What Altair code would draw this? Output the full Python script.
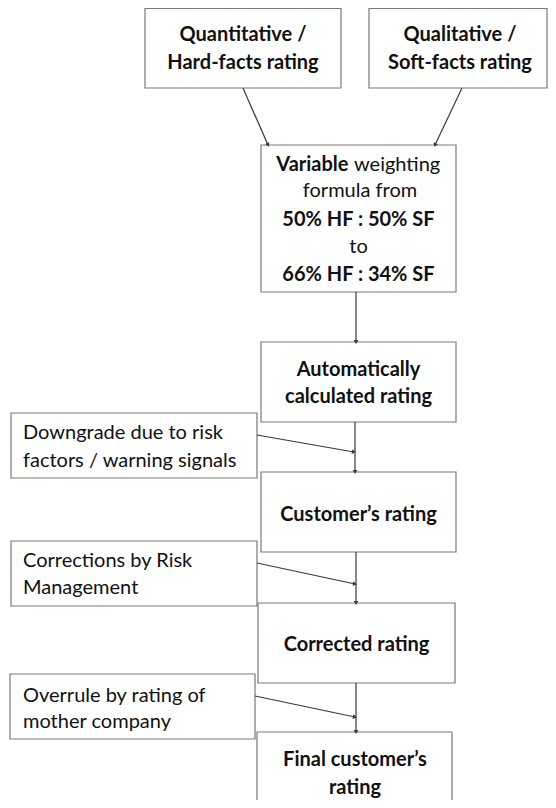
import altair as alt
import pandas as pd
import numpy as np

# ---- boxes (image pixel coordinates) ----
box_name = ["quant", "qual", "variable", "auto", "customer", "corrected", "final",
            "downgrade", "corrections", "overrule"]
box_x1 = [145, 369, 261, 261, 261, 258, 257, 11, 11, 10]
box_x2 = [341, 547, 456, 456, 456, 455, 452, 257, 257, 255]
box_y1 = [8.5, 8.5, 145, 342, 472, 603, 732, 413, 541, 674]
box_y2 = [88, 88, 292, 422, 552, 683, 812, 478, 606, 739]

# ---- arrows ----
arr_x1 = [243, 462, 356, 355, 257, 356, 257, 356, 255]
arr_y1 = [88, 88, 292, 422, 435, 552, 563, 683, 696]
arr_x2 = [268, 435, 356, 355, 354, 356, 355, 356, 355]
arr_y2 = [145, 145, 342, 472, 452, 603, 584, 732, 717]

# ---- texts ----
bc_text = ["Quantitative /", "Hard-facts rating", "Qualitative /", "Soft-facts rating",
           "50% HF : 50% SF", "66% HF : 34% SF", "Automatically", "calculated rating",
           "Customer\u2019s rating", "Corrected rating", "Final customer\u2019s", "rating"]
bc_x = [243, 243, 460, 460, 358.5, 358.5, 358.5, 358.5, 358.5, 356.5, 355, 355]
bc_y = [35, 63, 35, 63, 220, 275, 370, 397, 515, 645, 760, 788]

rc_text = ["formula from", "to"]
rc_x = [360, 358.5]
rc_y = [191, 247]

br_text = ["Variable"]
br_x = [348.5]
br_y = [165]

rl_text = ["weighting"]
rl_x = [354]
rl_y = [165]

side_text = ["Downgrade due to risk", "factors / warning signals",
             "Corrections by Risk", "Management",
             "Overrule by rating of", "mother company"]
side_x = [23, 23, 23, 23, 23, 23]
side_y = [433, 461, 561, 588, 696, 722]

W, H = 540, 792
X0, Y0 = 8, 8
xs = alt.Scale(domain=[X0, X0 + W], range=[0, W])
ys = alt.Scale(domain=[Y0, Y0 + H], range=[0, H])

boxes = pd.DataFrame({"name": box_name, "x1": box_x1, "x2": box_x2, "y1": box_y1, "y2": box_y2})
arrows = pd.DataFrame({"x1": arr_x1, "y1": arr_y1, "x2": arr_x2, "y2": arr_y2})
dx = arrows["x2"] - arrows["x1"]
dy = arrows["y2"] - arrows["y1"]
arrows["ang"] = np.mod(np.degrees(np.arctan2(-dx, dy)), 360)

FONT = "Lato"
FS = 20

rects = alt.Chart(boxes).mark_rect(fill="white", stroke="#7a7a7a", strokeWidth=1.2).encode(
    x=alt.X("x1:Q", scale=xs, axis=None), x2="x2:Q",
    y=alt.Y("y1:Q", scale=ys, axis=None), y2="y2:Q")

lines = alt.Chart(arrows).mark_rule(color="#3a3a3a", strokeWidth=1.2).encode(
    x=alt.X("x1:Q", scale=xs, axis=None), x2="x2:Q",
    y=alt.Y("y1:Q", scale=ys, axis=None), y2="y2:Q")

heads = alt.Chart(arrows).mark_point(shape="triangle-down", filled=True, color="#3a3a3a",
                                      size=22, opacity=1).encode(
    x=alt.X("x2:Q", scale=xs, axis=None),
    y=alt.Y("y2:Q", scale=ys, axis=None),
    angle=alt.Angle("ang:Q", scale=None))

def txt(texts, x, y, weight, align):
    df = pd.DataFrame({"t": texts, "x": x, "y": y})
    return alt.Chart(df).mark_text(font=FONT, fontSize=FS, fontWeight=weight, align=align,
                                   baseline="middle", color="#111111").encode(
        x=alt.X("x:Q", scale=xs, axis=None),
        y=alt.Y("y:Q", scale=ys, axis=None),
        text="t:N")

chart = alt.layer(
    rects, lines, heads,
    txt(bc_text, bc_x, bc_y, "bold", "center"),
    txt(rc_text, rc_x, rc_y, "normal", "center"),
    txt(br_text, br_x, br_y, "bold", "right"),
    txt(rl_text, rl_x, rl_y, "normal", "left"),
    txt(side_text, side_x, side_y, "normal", "left"),
).properties(width=W, height=H, padding=0, autosize=alt.AutoSizeParams(type="none"),
             background="white"
).configure_view(stroke=None)

chart.save("out.html", embed_options={"renderer": "svg", "actions": False})
